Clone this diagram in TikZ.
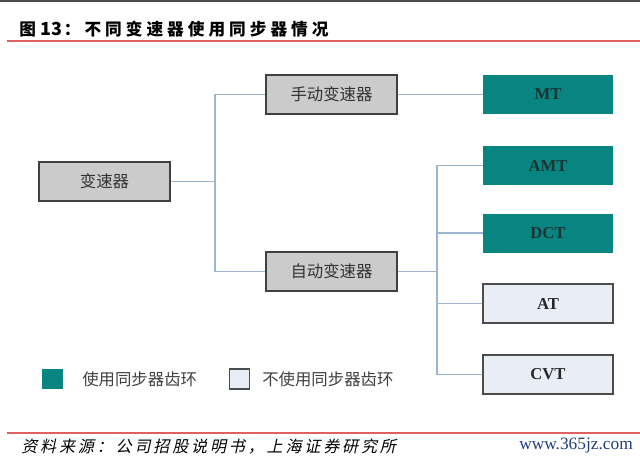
\documentclass[tikz,border=0pt]{standalone}
\usepackage{fontspec}
\setmainfont{Liberation Serif}
\newfontfamily\cjk{Noto Sans CJK SC}
\newfontfamily\cjkit[FakeSlant=0.22]{Noto Sans CJK SC}
\definecolor{teal1}{HTML}{088580}
\definecolor{grayfill}{HTML}{CBCBCB}
\definecolor{lightfill}{HTML}{E8EDF6}
\definecolor{linec}{HTML}{9DB5D1}
\definecolor{redline}{HTML}{E06060}
\definecolor{urlc}{HTML}{1F3F7A}
\definecolor{darktxt}{HTML}{1A3434}
\tikzset{
  graybox/.style={draw=black!75, line width=0.8pt, fill=grayfill, minimum width=98.25pt, minimum height=29.25pt, inner sep=0pt, font=\cjk\fontsize{12.3}{12}\selectfont, text=black!80},
  tealbox/.style={draw=none, fill=teal1, minimum width=97.5pt, minimum height=29.25pt, inner sep=0pt, font=\bfseries\fontsize{12.5}{12}\selectfont, text=darktxt},
  lightbox/.style={draw=black!70, line width=0.8pt, fill=lightfill, minimum width=97.5pt, minimum height=29.25pt, inner sep=0pt, font=\bfseries\fontsize{12.5}{12}\selectfont, text=black!85},
  conn/.style={draw=linec, line width=0.9pt},
}
\begin{document}
\begin{tikzpicture}[x=0.75pt,y=-0.75pt]
\useasboundingbox (0,0) rectangle (640,461);
\fill[white] (0,0) rectangle (640,461);
\fill[black!70] (0,0) rectangle (640,1.5);
% title
\node[anchor=west, font=\cjk\bfseries\fontsize{12.5}{12}\selectfont, inner sep=0pt] (title) at (19,29) {图\hspace{3.5pt}{\fontsize{13.5}{13}\selectfont 13}\hspace{1pt}：\hspace{3pt}{\addfontfeature{LetterSpace=24}不同变速器使用同步器情况}};
\draw[redline, line width=1pt] (7,41) -- (640,41);
% boxes
\node[graybox] (bsq) at (104.5,181.5) {变速器};
\node[graybox] (man) at (331.5,94.5) {手动变速器};
\node[graybox] (aut) at (331.5,271.5) {自动变速器};
\node[tealbox] (mt) at (548,94.5) {MT};
\node[tealbox] (amt) at (548,165.5) {AMT};
\node[tealbox] (dct) at (548,233) {DCT};
\node[lightbox] (at) at (548,303.5) {AT};
\node[lightbox] (cvt) at (548,374.5) {CVT};
% connectors
\coordinate (j1) at (215,181.5);
\coordinate (j2) at (437,271.5);
\draw[conn] (bsq.east) -- (j1);
\draw[conn] (j1) |- (man.west);
\draw[conn] (j1) |- (aut.west);
\draw[conn] (man.east) -- (mt.west);
\draw[conn] (aut.east) -- (j2);
\draw[conn] (j2) |- (amt.west);
\draw[conn] (j2) |- (dct.west);
\draw[conn] (j2) |- (at.west);
\draw[conn] (j2) |- (cvt.west);
% legend
\node[fill=teal1, minimum width=15.75pt, minimum height=15pt, inner sep=0pt] (lg1) at (52.5,379) {};
\node[anchor=west, font=\cjk\fontsize{12.3}{12}\selectfont, text=black!75, inner sep=0pt] (lt1) at (82,379) {使用同步器齿环};
\node[draw=black!70, line width=0.8pt, fill=lightfill, minimum width=15pt, minimum height=15pt, inner sep=0pt] (lg2) at (239.5,379) {};
\node[anchor=west, font=\cjk\fontsize{12.3}{12}\selectfont, text=black!75, inner sep=0pt] (lt2) at (262,379) {不使用同步器齿环};
% footer
\draw[redline, line width=1pt] (7,433) -- (640,433);
\node[anchor=west, font=\cjkit\fontsize{12}{12}\selectfont, inner sep=0pt] (src) at (21,447) {\addfontfeature{LetterSpace=18}资料来源：公司招股说明书，上海证券研究所};
\node[anchor=east, font=\fontsize{13}{12}\selectfont, text=urlc, inner sep=0pt] (url) at (633,446) {www.365jz.com};
\end{tikzpicture}
\end{document}
